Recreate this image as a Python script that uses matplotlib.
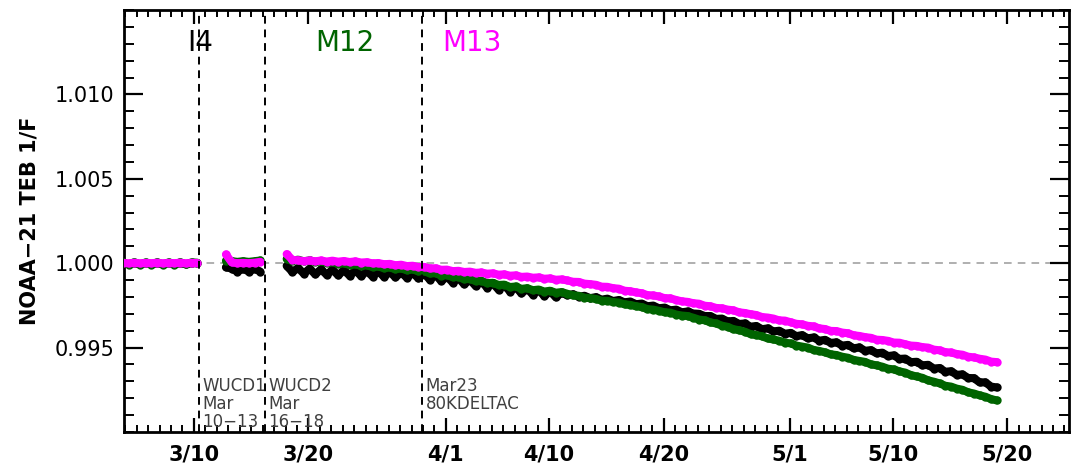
import datetime
import numpy as np
import matplotlib
matplotlib.use("Agg")
import matplotlib.pyplot as plt
import matplotlib.dates as mdates
from matplotlib.ticker import MultipleLocator, FixedLocator, FixedFormatter, FormatStrFormatter

# ---------------- data (deviation from 1.0 in units of 1e-5) ----------------
REF_DATE = datetime.datetime(2023, 3, 10)   # day 0
STEP = 0.5                                  # days between samples
seg_start = [-6.2, 2.8, 8.1]                # first sample day of each segment

black_s1 = [0, -6, 0, -6, 0, -6, 0, -6, 0, -6, 0, -6, 0, 0]
green_s1 = [6, -8, 6, -8, 5, -9, 6, -8, 5, -8, 6, -7, 5, 3]
magenta_s1 = [2, -1, 3, -1, 2, 0, 3, -1, 2, 0, 3, -1, 2, 1]

black_s2 = [-24, -32, -50, -32, -50, -32, -50]
green_s2 = [15, 12, 8, 12, 8, 12, 16]
magenta_s2 = [52, 5, 0, 2, 0, 3, 8]

magenta_s3 = [54, 20, 17, 12, 16, 11, 16, 10, 15, 9,
              13, 7, 11, 4, 6, -1, 1, -6, -4, -12,
              -9, -17, -15, -23, -22, -31, -30, -39, -38, -47,
              -45, -52, -50, -57, -55, -62, -60, -68, -66, -74,
              -72, -81, -79, -86, -84, -92, -90, -98, -96,
              -102, -110, -111, -121, -124, -128, -139, -140, -148, -151,
              -163, -166, -173, -178, -189, -191, -197, -207, -208, -218,
              -226, -229, -237, -240, -252, -255, -265, -267, -275, -279,
              -291, -295, -302, -307, -319, -322, -328, -339, -340, -350,
              -359, -362, -371, -374, -386, -390, -401, -402, -411, -415,
              -427, -431, -438, -442, -453, -455, -460, -470, -471, -480,
              -488, -490, -497, -500, -512, -516, -527, -529, -538, -542,
              -554, -558, -566, -571, -583, -586]

green_s3 = [25, 15, 21, 11, 17, 7, 12, 1, 6, -5,
            0, -11, -6, -17, -12, -23, -19, -30, -25, -36,
            -31, -42, -37, -48, -46, -61, -59, -74, -70, -83,
            -81, -95, -93, -106, -104, -118, -116, -129, -127, -141,
            -138, -152, -148, -160, -156, -168, -163, -175, -171,
            -181, -191, -193, -204, -207, -212, -222, -223, -230, -233,
            -244, -247, -255, -260, -272, -275, -282, -291, -293, -304,
            -310, -313, -323, -334, -338, -351, -357, -370, -377, -391,
            -397, -406, -420, -426, -433, -446, -452, -459, -471, -475,
            -488, -494, -500, -514, -520, -528, -540, -544, -554, -560,
            -573, -579, -585, -599, -605, -613, -625, -629, -641, -648,
            -663, -671, -679, -694, -702, -712, -726, -731, -743, -750,
            -765, -772, -783, -791, -805, -813]

black_s3 = [-15, -52, -28, -62, -32, -66, -36, -69, -38, -72,
            -41, -74, -43, -76, -46, -79, -48, -81, -51, -84,
            -54, -87, -56, -90, -61, -98, -70, -106, -79, -115,
            -88, -125, -98, -135, -108, -145, -119, -157, -130, -168,
            -142, -179, -151, -187, -159, -195, -166, -202, -174,
            -190, -184, -199, -193, -207, -201, -216, -210, -224, -218,
            -232, -227, -243, -239, -255, -251, -267, -263, -279, -275,
            -291, -286, -298, -300, -313, -313, -330, -328, -345, -342,
            -360, -357, -376, -372, -391, -386, -404, -400, -418, -413,
            -432, -426, -445, -440, -459, -454, -472, -469, -488, -484,
            -504, -499, -519, -515, -534, -530, -550, -546, -567, -565,
            -586, -584, -605, -602, -624, -621, -643, -640, -661, -659,
            -680, -681, -706, -706, -731, -736]

series_names = ["black", "green", "magenta"]
series_colors = ["#000000", "#006400", "#FF00FF"]
series_segments = [
    [black_s1, black_s2, black_s3],
    [green_s1, green_s2, green_s3],
    [magenta_s1, magenta_s2, magenta_s3],
]

band_labels = ["I4", "M12", "M13"]
band_colors = ["#000000", "#006400", "#FF00FF"]
band_days = [-0.6, 10.6, 21.7]

event_days = [0.45, 6.2, 19.95]
event_labels = ["WUCD1\nMar\n10\u221213", "WUCD2\nMar\n16\u221218", "Mar23\n80KDELTAC"]

tick_dates = [(3, 10), (3, 20), (4, 1), (4, 10), (4, 20), (5, 1), (5, 10), (5, 20)]
tick_labels = ["3/10", "3/20", "4/1", "4/10", "4/20", "5/1", "5/10", "5/20"]
y_ticks = [0.995, 1.000, 1.005, 1.010]

x_range_days = (-6.1, 76.4)
y_range = (0.990, 1.015)

# ---------------- plotting ----------------
base = mdates.date2num(REF_DATE)

fig = plt.figure(figsize=(10.71, 4.66), dpi=100)
ax = fig.add_axes([124 / 1071, 1 - 432 / 466, (1069 - 124) / 1071, (432 - 10) / 466])

ax.axhline(1.0, color="#9a9a9a", lw=1.1, ls=(0, (5, 4)), zorder=1)

for k, (name, col, segs) in enumerate(zip(series_names, series_colors, series_segments)):
    for start, vals in zip(seg_start, segs):
        d = start + STEP * np.arange(len(vals))
        y = 1.0 + np.asarray(vals, dtype=float) * 1e-5
        ax.plot(base + d, y, "-", color=col, lw=5.8, marker="o", ms=5,
                mfc=col, mec=col, solid_capstyle="round", solid_joinstyle="round",
                zorder=3 + k)

for d in event_days:
    ax.axvline(base + d, color="black", lw=1.4, ls=(0, (4, 3)), zorder=8)

for d, lab in zip(event_days, event_labels):
    ax.text(base + d + 0.3, 0.99327, lab, ha="left", va="top", fontsize=12,
            color="#404040", linespacing=1.0, zorder=9)

for d, lab, col in zip(band_days, band_labels, band_colors):
    ax.text(base + d, 1.01256, lab, ha="left", va="baseline", fontsize=20,
            color=col, zorder=9)

ax.set_xlim(base + x_range_days[0], base + x_range_days[1])
ax.set_ylim(*y_range)

ax.xaxis.set_major_locator(FixedLocator([mdates.date2num(datetime.datetime(2023, m, dd)) for m, dd in tick_dates]))
ax.xaxis.set_major_formatter(FixedFormatter(tick_labels))
ax.xaxis.set_minor_locator(mdates.DayLocator())
ax.yaxis.set_major_locator(FixedLocator(y_ticks))
ax.yaxis.set_minor_locator(MultipleLocator(0.001))
ax.yaxis.set_major_formatter(FormatStrFormatter("%.3f"))

ax.tick_params(axis="x", which="major", direction="in", top=True, bottom=True,
               length=10, width=1.6, pad=9)
ax.tick_params(axis="x", which="minor", direction="in", top=True, bottom=True,
               length=5, width=1.4)
ax.tick_params(axis="y", which="major", direction="in", left=True, right=True,
               length=14, width=1.6, pad=7)
ax.tick_params(axis="y", which="minor", direction="in", left=True, right=True,
               length=7, width=1.4)

for lab in ax.get_xticklabels():
    lab.set_fontsize(15)
    lab.set_fontweight("bold")
for lab in ax.get_yticklabels():
    lab.set_fontsize(15)

for sp in ax.spines.values():
    sp.set_linewidth(2)

fig.text(30 / 1071, 1 - 221 / 466, "NOAA\u221221 TEB 1/F", rotation=90,
         ha="center", va="center", fontsize=15, fontweight="bold")

fig.savefig("out.png", dpi=100)
